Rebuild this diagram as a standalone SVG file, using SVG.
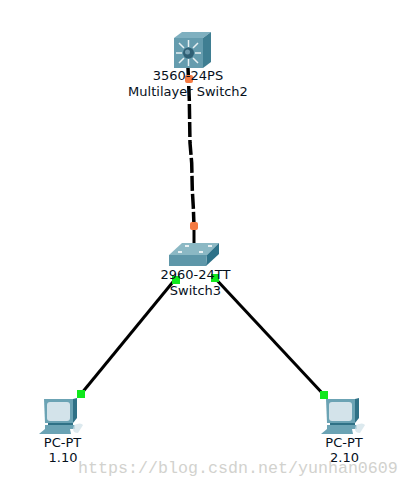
<svg xmlns="http://www.w3.org/2000/svg" width="409" height="488" viewBox="0 0 409 488">
<style>
text{font-family:"DejaVu Sans",Verdana,sans-serif;font-size:13px;fill:#06101c;text-anchor:middle}
.wm{font-family:"Liberation Mono","DejaVu Sans Mono",monospace;font-size:16.67px;fill:#d2d2ce;text-anchor:start}
.link{fill:none;stroke:#000;stroke-width:3}
.dash{stroke-width:3.500;stroke-dasharray:15 3}
.pc1{fill:#6ba3b4}.pc2{fill:#2f7186}.pc3{fill:#d3e3ea}.pc4{fill:#7fb0bf}
</style>
<defs>
<g id="pc">
<path class="pc2" d="M34 1L38 0V20L34 25Z"/>
<path class="pc1" d="M5 1H34V25H6Z"/>
<rect class="pc3" x="8" y="4" width="23" height="19" rx="3"/>
<rect class="pc2" x="9" y="25" width="25" height="2"/>
<path class="pc1" d="M6 27H36V31H6Z"/>
<path class="pc3" d="M35 27Q42 24 44 27L39 35Q34 35 34 31Z" opacity=".8"/>
<path class="pc1" d="M6 31H31L32 36H0Z"/>
</g>
</defs>
<g id="connectors">
<path class="link dash" d="M188 68L188.500 80L189.300 100L190 143L191.700 163L192.300 190L193.300 207L194 226"/>
<path class="link" d="M194 226V245"/>
<path class="link" d="M177 277L81 394"/>
<path class="link" d="M213 276L324 395"/>
<rect x="185" y="75" width="8" height="8" rx="2" fill="#f47a42"/>
<rect x="190" y="222" width="8" height="8" rx="2" fill="#f47a42"/>
<rect x="172" y="276" width="8" height="8" fill="#0fe81c"/>
<rect x="211" y="274" width="8" height="8" fill="#0fe81c"/>
<rect x="77" y="390" width="8" height="8" fill="#0fe81c"/>
<rect x="320" y="391" width="8" height="8" fill="#0fe81c"/>
</g>
<g id="switch2">
<path fill="#7fb0c0" d="M174 38L182 32H211L203 38Z"/>
<path fill="#3f7e92" d="M203 38L211 32V62L203 68Z"/>
<rect x="174" y="38" width="29" height="30" fill="#659cae"/>
<g stroke="#e8f0f2" stroke-width="1.500">
<path d="M188.500 40V47M188.500 59V66M176 53H182M195 53H201M179 43L184 48M193 58L198 63M198 43L193 48M184 58L179 63"/>
</g>
<circle cx="188.500" cy="53" r="5.500" fill="#2f5f74"/>
<circle cx="187.500" cy="52" r="2.500" fill="#6f9aad"/>
<text x="188" y="80">3560-24PS</text>
<text x="188" y="96">Multilayer Switch2</text>
</g>
<g id="switch3">
<path fill="#8bb8c4" d="M169 255L182 243H219L207 255Z"/>
<path fill="#2d7188" d="M207 255L219 243V254L206 266Z"/>
<path fill="#5e97a9" d="M169 255H207L206 266H169Z"/>
<g fill="#e9f1f3"><rect x="185" y="245" width="4" height="2"/><rect x="208" y="245" width="4" height="2"/><rect x="178" y="251" width="4" height="2"/><rect x="199" y="251" width="4" height="2"/></g>
<text x="195.500" y="279">2960-24TT</text>
<text x="195.500" y="295">Switch3</text>
</g>
<g id="pc1">
<use href="#pc" transform="translate(39 398)"/>
<text x="62.500" y="447">PC-PT</text>
<text x="63" y="462">1.10</text>
</g>
<g id="pc2">
<use href="#pc" transform="translate(321 398)"/>
<text x="344" y="447">PC-PT</text>
<text x="344.500" y="462">2.10</text>
</g>
<text class="wm" x="78" y="473">https://blog.csdn.net/yunhan0609</text>
</svg>
